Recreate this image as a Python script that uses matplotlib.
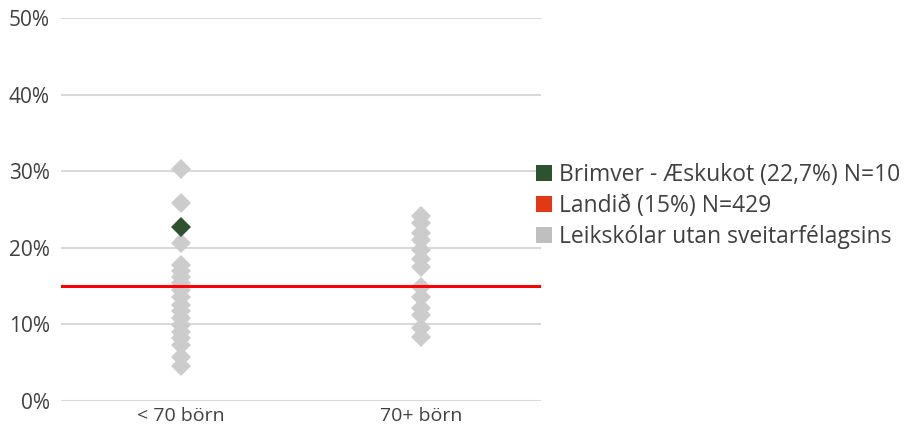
import matplotlib
matplotlib.use("Agg")
import matplotlib.pyplot as plt
from matplotlib.patches import Patch

categories = ["< 70 börn", "70+ börn"]
others_small = [30.3, 25.9, 20.6, 17.8, 17.0, 16.2, 15.4, 14.5, 13.6, 12.5, 11.7,
                10.8, 9.9, 9.0, 8.2, 7.3, 5.8, 4.6]
others_large = [24.2, 23.2, 21.9, 21.0, 19.7, 18.6, 17.5, 14.9, 13.6, 12.1, 11.2,
                9.5, 8.4]
school_value = 22.7
school_category = 0
national_value = 15.0
legend_labels = ["Brimver - Æskukot (22,7%) N=10", "Landið (15%) N=429",
                 "Leikskólar utan sveitarfélagsins"]
yticks = [0, 10, 20, 30, 40, 50]

plt.rcParams['font.family'] = ['Open Sans', 'DejaVu Sans']
text_color = "#404040"

fig = plt.figure(figsize=(9.09, 4.30), dpi=100)
ax = fig.add_axes([61/909, 29/430, 480/909, 383/430])

ax.set_xlim(-0.5, 1.5)
ax.set_ylim(0, 50)
ax.set_yticks(yticks)
ax.set_yticklabels([f"{v}%" for v in yticks])
ax.set_xticks(range(len(categories)))
ax.set_xticklabels(categories)
ax.grid(axis='y', color='#d9d9d9', linewidth=1.5, zorder=0)
ax.set_axisbelow(True)
for s in ax.spines.values():
    s.set_visible(False)
ax.tick_params(axis='both', length=0, colors=text_color)
ax.tick_params(axis='y', pad=8, labelsize=15)
ax.tick_params(axis='x', pad=4, labelsize=14)

gray = "#cccccc"
green = "#2e5130"
ax.plot([0]*len(others_small), others_small, linestyle='none', marker='D',
        markersize=10, color=gray, markeredgewidth=0, zorder=2)
ax.plot([1]*len(others_large), others_large, linestyle='none', marker='D',
        markersize=10, color=gray, markeredgewidth=0, zorder=2)
ax.axhline(national_value, color='#ff0000', linewidth=2.2, zorder=3)
ax.plot([school_category], [school_value], linestyle='none', marker='D',
        markersize=10, color=green, markeredgewidth=0, zorder=4)

handles = [Patch(facecolor=green), Patch(facecolor='#e03a14'), Patch(facecolor='#bfbfbf')]
leg = fig.legend(handles, legend_labels, loc='center left',
                 bbox_to_anchor=(536/909, 1 - 206/430), frameon=False,
                 fontsize=16.5, handlelength=0.7, handleheight=0.7,
                 handletextpad=0.3, labelspacing=0.3, borderaxespad=0,
                 borderpad=0)
for t in leg.get_texts():
    t.set_color(text_color)

fig.savefig("out.png", dpi=100)
